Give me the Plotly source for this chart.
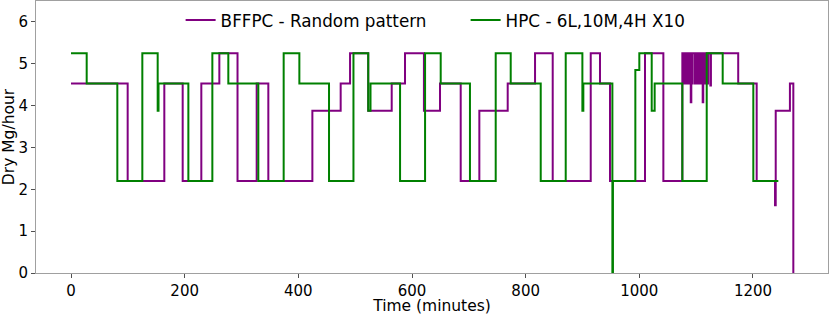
import plotly.graph_objects as go

# Change points (minutes) and levels (Dry Mg/hour) for each series
bffpc_time = [0, 99.7, 164.2, 196.5, 229.3, 261, 293, 326.7, 347.2, 424.7, 474.5, 491,
              523, 564.3, 587.7, 621, 649.3, 685.7, 718.5, 768.4, 816.5, 847.6, 914.5,
              930.8, 948.4, 1010, 1042.3,
              1075.7, 1077, 1078, 1079.5, 1080.5, 1082, 1083, 1084.5, 1085.5, 1087, 1088,
              1089.5, 1090.5, 1091.5, 1093, 1094, 1098, 1099, 1100.5, 1101.5, 1103, 1104,
              1105.5, 1106.5, 1108, 1109, 1111.5, 1112.5, 1114, 1115, 1116.5, 1117.5, 1120,
              1121, 1125, 1126,
              1174, 1206.5, 1238.8, 1240, 1265, 1271]
bffpc_value = [4.53, 2.2, 4.53, 2.2, 4.53, 5.25, 2.2, 4.53, 2.2, 3.88, 4.53, 5.25,
               3.88, 4.53, 5.25, 3.88, 4.53, 2.2, 3.88, 4.53, 5.25, 2.2, 5.25,
               4.53, 2.2, 5.25, 2.2,
               5.25, 4.53, 5.25, 4.53, 5.25, 4.53, 5.25, 4.53, 5.25, 4.53, 5.25,
               4.53, 4.08, 5.25, 4.53, 5.25, 4.53, 5.25, 4.53, 5.25, 4.53, 5.25,
               4.53, 5.25, 4.53, 5.25, 4.08, 5.25, 4.53, 5.25, 4.53, 5.25, 4.53,
               5.25, 4.48, 5.25,
               4.53, 2.2, 1.62, 3.88, 4.53, 0]

hpc_time = [0, 27.6, 81.5, 125.5, 152.5, 154, 206.5, 248.7, 276.8, 329.6, 374.2, 401.8,
            454, 497, 523, 527, 579, 623, 650.5, 702, 747.3, 773.7, 826.5, 870.5,
            899.8, 901.5, 952.6, 953.6, 993, 1000, 1021.8, 1027, 1075.7, 1118.6,
            1146.7, 1200.6, 1244.6]
hpc_value = [5.25, 4.53, 2.2, 5.25, 3.88, 4.53, 2.2, 5.25, 4.53, 2.2, 5.25, 4.53,
             2.2, 5.25, 3.88, 4.53, 2.2, 5.25, 4.53, 2.2, 5.25, 4.53, 2.2, 5.25,
             3.88, 4.53, 0, 2.2, 4.85, 5.25, 3.88, 4.53, 2.2, 5.25,
             4.53, 2.2, 2.2]

series_names = ["BFFPC - Random pattern", "HPC - 6L,10M,4H X10"]
x_ticks = [0, 200, 400, 600, 800, 1000, 1200]
y_ticks = [0, 1, 2, 3, 4, 5, 6]

FONT = "DejaVu Sans"

fig = go.Figure()
fig.add_trace(go.Scatter(x=bffpc_time, y=bffpc_value, mode="lines", name=series_names[0],
                         line=dict(color="#800080", width=2, shape="hv")))
fig.add_trace(go.Scatter(x=hpc_time, y=hpc_value, mode="lines", name=series_names[1],
                         line=dict(color="#008000", width=2, shape="hv")))

axis_common = dict(showgrid=False, zeroline=False, showline=True, mirror=True,
                   linecolor="#a0a0a0", linewidth=1, ticks="outside", ticklen=4,
                   tickcolor="#505050", tickfont=dict(family=FONT, size=15, color="black"))

fig.update_layout(
    width=830, height=315,
    margin=dict(l=36, r=2, t=1, b=42),
    paper_bgcolor="white", plot_bgcolor="white",
    font=dict(family=FONT, size=15, color="black"),
    legend=dict(orientation="h", x=0.1826, xanchor="left", y=0.93, yanchor="middle",
                bgcolor="rgba(0,0,0,0)", font=dict(family=FONT, size=16.8),
                entrywidth=240, entrywidthmode="pixels"),
    xaxis=dict(range=[-61.6, 1332], tickvals=x_ticks,
               title=dict(text="Time (minutes)", standoff=4, font=dict(family=FONT, size=15.5)),
               automargin=False, **axis_common),
    yaxis=dict(range=[0, 6.5], tickvals=y_ticks,
               title=dict(text="Dry Mg/hour", standoff=4, font=dict(family=FONT, size=15.5)),
               automargin=False, **axis_common),
)

fig.write_html("out.html", config={"displayModeBar": False},
               post_script="document.body.style.margin='0px';")
